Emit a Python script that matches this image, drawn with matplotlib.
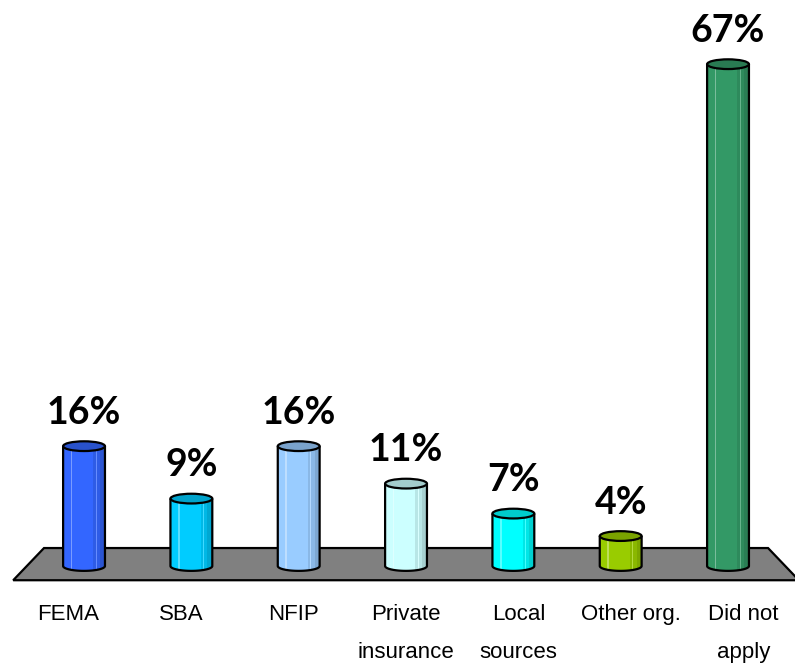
"""Funding sources applied for: 3D-style cylinder bar chart."""

import matplotlib

matplotlib.use("Agg")
import matplotlib.pyplot as plt
import numpy as np
from matplotlib.colors import to_rgb
from matplotlib.patches import Ellipse, Polygon

CATEGORIES = ["FEMA", "SBA", "NFIP", "Private\ninsurance", "Local\nsources", "Other org.", "Did not\napply"]
VALUES = [16, 9, 16, 11, 7, 4, 67]
VALUE_LABELS = ["16%", "9%", "16%", "11%", "7%", "4%", "67%"]
BAR_COLORS = ["#3366FF", "#00CCFF", "#99CCFF", "#CCFFFF", "#00FFFF", "#99CC00", "#339966"]

BAR_WIDTH = 0.39
CAP_HEIGHT = 1.3
FLOOR_COLOR = "#808080"
LABEL_SPREAD = 1.048  # category labels sit slightly wider apart than the bars


def shade(color, factor):
    r, g, b = to_rgb(color)
    return (r * factor, g * factor, b * factor)


def lighten(color, amount):
    r, g, b = to_rgb(color)
    return (r + (1 - r) * amount, g + (1 - g) * amount, b + (1 - b) * amount)


def draw_cylinder(ax, x, value, color):
    half = BAR_WIDTH / 2
    t = np.linspace(np.pi, 2 * np.pi, 40)
    arc = np.column_stack([x + half * np.cos(t), (CAP_HEIGHT / 2) * np.sin(t)])
    outline = np.vstack([[x - half, value], arc, [x + half, value]])

    body = Polygon(outline, closed=True, facecolor=color, edgecolor="none", zorder=3)
    ax.add_patch(body)

    # vertical shading strips, clipped to the cylinder body
    strips = [
        (0.18, 0.04, lighten(color, 0.35)),
        (0.72, 0.28, shade(color, 0.9)),
        (0.78, 0.02, lighten(color, 0.25)),
        (0.88, 0.12, shade(color, 0.82)),
    ]
    for start, width, c in strips:
        bars = ax.bar(
            x - half + BAR_WIDTH * (start + width / 2),
            value + CAP_HEIGHT,
            width=BAR_WIDTH * width,
            bottom=-CAP_HEIGHT,
            color=c,
            linewidth=0,
            zorder=4,
        )
        for rect in bars:
            rect.set_clip_path(body)

    edge = Polygon(outline, closed=False, facecolor="none", edgecolor="black", linewidth=1.6, zorder=5)
    ax.add_patch(edge)

    cap = Ellipse(
        (x, value),
        BAR_WIDTH,
        CAP_HEIGHT,
        facecolor=shade(color, 0.8),
        edgecolor="black",
        linewidth=1.6,
        zorder=6,
    )
    ax.add_patch(cap)


def main() -> None:
    fig = plt.figure(figsize=(7.95, 6.66), dpi=100)
    ax = fig.add_axes([0, 0, 1, 1])
    ax.set_xlim(-0.783, 6.624)
    ax.set_ylim(-13.35, 75.57)
    ax.axis("off")

    n = len(CATEGORIES)
    xs = np.arange(n)
    mid = (n - 1) / 2

    floor = Polygon(
        [[-0.373, 2.4], [n - 1 + 0.373, 2.4], [n - 1 + 0.66, -1.9], [-0.66, -1.9]],
        closed=True,
        facecolor=FLOOR_COLOR,
        edgecolor="black",
        linewidth=1.6,
        zorder=1,
    )
    ax.add_patch(floor)

    for x, value, color, label, cat in zip(xs, VALUES, BAR_COLORS, VALUE_LABELS, CATEGORIES):
        draw_cylinder(ax, x, value, color)
        ax.annotate(
            label,
            xy=(x, value),
            xytext=(0, 16),
            textcoords="offset points",
            ha="center",
            va="baseline",
            fontsize=27,
            fontweight="bold",
            family=["Lato", "DejaVu Sans"],
            color="black",
            zorder=7,
        )
        ax.annotate(
            cat,
            xy=(mid + (x - mid) * LABEL_SPREAD, 0),
            xytext=(0, -27),
            textcoords="offset points",
            ha="center",
            va="top",
            fontsize=16,
            linespacing=2.1,
            family=["Liberation Sans", "DejaVu Sans"],
        )

    fig.savefig("out.png", dpi=100)
    plt.close(fig)


if __name__ == "__main__":
    main()
